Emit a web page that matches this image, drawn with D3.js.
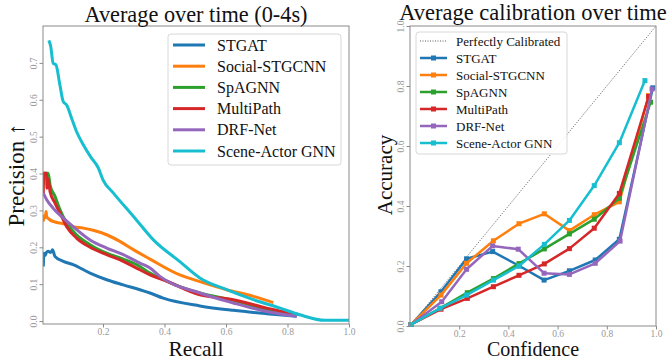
<!DOCTYPE html>
<html>
<head>
<meta charset="utf-8">
<script src="https://cdn.jsdelivr.net/npm/d3@7"></script>
<style>
  body { margin: 0; background: #fff; }
</style>
</head>
<body>
<svg id="chart" width="670" height="360"></svg>
<script>
const width = 670, height = 360;
const serif = 'Liberation Serif';

const models = ['STGAT', 'Social-STGCNN', 'SpAGNN', 'MultiPath', 'DRF-Net', 'Scene-Actor GNN'];
const colors = ['#1f77b4', '#ff7f0e', '#2ca02c', '#d62728', '#9467bd', '#17becf'];

// precision-recall curves, [recall, precision]
const prSTGAT = [[0.006,0.148],[0.008,0.184],[0.012,0.178],[0.016,0.186],[0.022,0.189],[0.03,0.186],[0.036,0.193],[0.044,0.175],[0.071,0.162],[0.103,0.153],[0.158,0.13],[0.212,0.112],[0.266,0.098],[0.32,0.085],[0.353,0.076],[0.396,0.062],[0.515,0.041],[0.624,0.029],[0.732,0.02],[0.83,0.013]];
const prSocial = [[0.006,0.27],[0.008,0.285],[0.012,0.28],[0.015,0.297],[0.017,0.283],[0.025,0.276],[0.038,0.27],[0.071,0.264],[0.103,0.256],[0.136,0.252],[0.168,0.246],[0.212,0.234],[0.255,0.216],[0.3,0.193],[0.353,0.168],[0.45,0.125],[0.515,0.107],[0.602,0.085],[0.689,0.067],[0.754,0.05]];
const prSpAGNN = [[0.006,0.37],[0.008,0.401],[0.022,0.401],[0.028,0.369],[0.044,0.338],[0.06,0.302],[0.082,0.266],[0.114,0.234],[0.158,0.207],[0.212,0.184],[0.266,0.168],[0.32,0.148],[0.353,0.13],[0.396,0.112],[0.515,0.076],[0.624,0.056],[0.732,0.031],[0.83,0.017]];
const prMultiPath = [[0.006,0.34],[0.007,0.401],[0.016,0.401],[0.018,0.36],[0.022,0.385],[0.028,0.351],[0.044,0.32],[0.06,0.293],[0.082,0.256],[0.114,0.225],[0.158,0.2],[0.212,0.18],[0.266,0.162],[0.32,0.139],[0.353,0.125],[0.396,0.112],[0.515,0.071],[0.624,0.058],[0.732,0.035],[0.84,0.017]];
const prDRF = [[0.006,0.347],[0.017,0.329],[0.038,0.306],[0.071,0.279],[0.103,0.256],[0.158,0.22],[0.212,0.198],[0.266,0.18],[0.32,0.157],[0.353,0.144],[0.385,0.121],[0.515,0.076],[0.624,0.049],[0.732,0.026],[0.83,0.013]];
const prSceneActor = [[0.024,0.761],[0.03,0.745],[0.038,0.699],[0.047,0.695],[0.06,0.64],[0.071,0.595],[0.082,0.586],[0.098,0.55],[0.114,0.514],[0.136,0.478],[0.16,0.445],[0.185,0.415],[0.2,0.383],[0.234,0.347],[0.3,0.283],[0.364,0.22],[0.45,0.161],[0.515,0.117],[0.602,0.085],[0.689,0.058],[0.776,0.035],[0.84,0.017],[0.922,0.002],[1.0,0.002]];
const prCurves = [prSTGAT, prSocial, prSpAGNN, prMultiPath, prDRF, prSceneActor];

// calibration curves, [confidence, accuracy]
const calSTGAT = [[0.005,0.005],[0.126,0.114],[0.23,0.224],[0.336,0.248],[0.445,0.2],[0.545,0.153],[0.648,0.184],[0.753,0.22],[0.851,0.289],[0.987,0.794]];
const calSocial = [[0.005,0.005],[0.126,0.103],[0.23,0.209],[0.339,0.284],[0.443,0.341],[0.546,0.374],[0.648,0.318],[0.749,0.371],[0.851,0.414],[0.97,0.768]];
const calSpAGNN = [[0.005,0.005],[0.122,0.059],[0.233,0.111],[0.339,0.158],[0.443,0.208],[0.546,0.257],[0.648,0.307],[0.749,0.356],[0.851,0.426],[0.978,0.746]];
const calMultiPath = [[0.005,0.005],[0.126,0.056],[0.233,0.092],[0.339,0.131],[0.443,0.169],[0.546,0.207],[0.648,0.258],[0.749,0.326],[0.851,0.442],[0.97,0.765]];
const calDRF = [[0.005,0.005],[0.129,0.081],[0.23,0.189],[0.336,0.267],[0.44,0.256],[0.545,0.176],[0.648,0.172],[0.753,0.209],[0.854,0.283],[0.984,0.79]];
const calSceneActor = [[0.005,0.005],[0.122,0.059],[0.23,0.103],[0.339,0.153],[0.443,0.2],[0.546,0.272],[0.648,0.352],[0.749,0.468],[0.851,0.611],[0.955,0.818]];
const calCurves = [calSTGAT, calSocial, calSpAGNN, calMultiPath, calDRF, calSceneActor];

const prXTicks = [0.2, 0.4, 0.6, 0.8, 1.0];
const prYTicks = [0.0, 0.1, 0.2, 0.3, 0.4, 0.5, 0.6, 0.7];
const calXTicks = [0.2, 0.4, 0.6, 0.8, 1.0];
const calYTicks = [0.0, 0.2, 0.4, 0.6, 0.8, 1.0];

const svg = d3.select('#chart').attr('font-family', serif);
const frameColor = '#8a8a8a';
const tickColor = '#999';

const label = (g, txt, size) => g.append('text')
  .attr('font-family', serif).attr('font-size', size).attr('fill', '#111').text(txt);

const drawFrame = (g, x, y, xTicks, yTicks) => {
  const [x0, x1] = x.range(), [y0, y1] = y.range();
  g.append('rect')
    .attr('x', x0).attr('y', y1)
    .attr('width', x1 - x0).attr('height', y0 - y1)
    .attr('fill', 'none').attr('stroke', frameColor).attr('stroke-width', 1);

  const xa = g.append('g').attr('transform', `translate(0,${y0})`)
    .call(d3.axisBottom(x).tickValues(xTicks).tickFormat(d3.format('.1f')).tickSize(3.5).tickPadding(0.5));
  const ya = g.append('g').attr('transform', `translate(${x0},0)`)
    .call(d3.axisLeft(y).tickValues(yTicks).tickFormat(d3.format('.1f')).tickSize(3.5).tickPadding(3));
  [xa, ya].forEach(a => {
    a.attr('font-family', serif);
    a.select('.domain').remove();
    a.selectAll('line').attr('stroke', frameColor);
    a.selectAll('text').attr('fill', tickColor).attr('font-size', 9.5);
  });
  // rotated y tick labels
  ya.selectAll('text')
    .attr('x', null).attr('dy', null)
    .attr('text-anchor', 'middle')
    .attr('transform', 'translate(-9.5,0) rotate(-90)')
    .attr('dy', '0.35em');
};

// ---------- left: precision / recall ----------
const xPR = d3.scaleLinear().domain([0.005, 1.0]).range([43, 349]);
const yPR = d3.scaleLinear().domain([-0.008, 0.8]).range([324, 26]);
const gL = svg.append('g');

gL.append('defs').append('clipPath').attr('id', 'clipL')
  .append('rect').attr('x', 43).attr('y', 26).attr('width', 306).attr('height', 298);

const prLine = d3.line().x(d => xPR(d[0])).y(d => yPR(d[1])).curve(d3.curveMonotoneX);
gL.append('g').attr('clip-path', 'url(#clipL)')
  .selectAll('path').data(prCurves).enter()
  .append('path')
  .attr('d', prLine)
  .attr('fill', 'none')
  .attr('stroke', (_, i) => colors[i])
  .attr('stroke-width', 3)
  .attr('stroke-linejoin', 'round');

drawFrame(gL, xPR, yPR, prXTicks, prYTicks);

label(gL, 'Average over time (0-4s)', 22.3).attr('x', 196).attr('y', 22).attr('text-anchor', 'middle');
label(gL, 'Recall', 21.5).attr('x', 196).attr('y', 355.5).attr('text-anchor', 'middle');
label(gL, 'Precision ↑', 23).attr('transform', 'translate(24,175) rotate(-90)').attr('text-anchor', 'middle');

// legend
const legL = gL.append('g');
legL.append('rect').attr('x', 168).attr('y', 34).attr('width', 173).attr('height', 131)
  .attr('rx', 3).attr('fill', 'white').attr('fill-opacity', 0.85)
  .attr('stroke', '#d8d8d8').attr('stroke-width', 1);
const itemsL = legL.selectAll('.item').data(models).enter().append('g')
  .attr('transform', (_, i) => `translate(0,${45 + i * 21.2})`);
itemsL.append('line').attr('x1', 173).attr('x2', 205).attr('y1', 0).attr('y2', 0)
  .attr('stroke', (_, i) => colors[i]).attr('stroke-width', 3);
itemsL.append('text').attr('x', 217).attr('y', 0).attr('dy', '0.35em')
  .attr('font-family', serif).attr('font-size', 16).attr('fill', '#111').text(d => d);

// ---------- right: calibration ----------
const xC = d3.scaleLinear().domain([0, 1]).range([410, 656]);
const yC = d3.scaleLinear().domain([0, 1]).range([326, 26]);
const gR = svg.append('g');

gR.append('line')
  .attr('x1', xC(0)).attr('y1', yC(0)).attr('x2', xC(1)).attr('y2', yC(1))
  .attr('stroke', '#333').attr('stroke-width', 0.8).attr('stroke-dasharray', '1,1.5');

const calLine = d3.line().x(d => xC(d[0])).y(d => yC(d[1]));
const series = gR.selectAll('.cal').data(calCurves).enter().append('g').attr('class', 'cal');
series.append('path')
  .attr('d', calLine)
  .attr('fill', 'none')
  .attr('stroke', (_, i) => colors[i])
  .attr('stroke-width', 2.5)
  .attr('stroke-linejoin', 'round');
series.each(function (d, i) {
  d3.select(this).selectAll('rect').data(d).enter().append('rect')
    .attr('x', p => xC(p[0]) - 2.5).attr('y', p => yC(p[1]) - 2.5)
    .attr('width', 5).attr('height', 5)
    .attr('fill', colors[i]);
});

drawFrame(gR, xC, yC, calXTicks, calYTicks);

label(gR, 'Average calibration over time', 22.5).attr('x', 533).attr('y', 20).attr('text-anchor', 'middle');
label(gR, 'Confidence', 20).attr('x', 533).attr('y', 355.5).attr('text-anchor', 'middle');
label(gR, 'Accuracy', 21).attr('transform', 'translate(392,175) rotate(-90)').attr('text-anchor', 'middle');

const legR = gR.append('g');
legR.append('rect').attr('x', 416).attr('y', 32).attr('width', 151).attr('height', 122)
  .attr('rx', 3).attr('fill', 'white').attr('fill-opacity', 0.85)
  .attr('stroke', '#d8d8d8').attr('stroke-width', 1);
legR.append('line').attr('x1', 420).attr('x2', 447).attr('y1', 41).attr('y2', 41)
  .attr('stroke', '#333').attr('stroke-width', 0.8).attr('stroke-dasharray', '1,1.5');
legR.append('text').attr('x', 456).attr('y', 41).attr('dy', '0.35em')
  .attr('font-family', serif).attr('font-size', 13).attr('fill', '#111').text('Perfectly Calibrated');
const itemsR = legR.selectAll('.item').data(models).enter().append('g')
  .attr('transform', (_, i) => `translate(0,${58 + i * 17})`);
itemsR.append('line').attr('x1', 420).attr('x2', 447).attr('y1', 0).attr('y2', 0)
  .attr('stroke', (_, i) => colors[i]).attr('stroke-width', 2.5);
itemsR.append('rect').attr('x', 431).attr('y', -2.5).attr('width', 5).attr('height', 5)
  .attr('fill', (_, i) => colors[i]);
itemsR.append('text').attr('x', 456).attr('y', 0).attr('dy', '0.35em')
  .attr('font-family', serif).attr('font-size', 13).attr('fill', '#111').text(d => d);
</script>
</body>
</html>
